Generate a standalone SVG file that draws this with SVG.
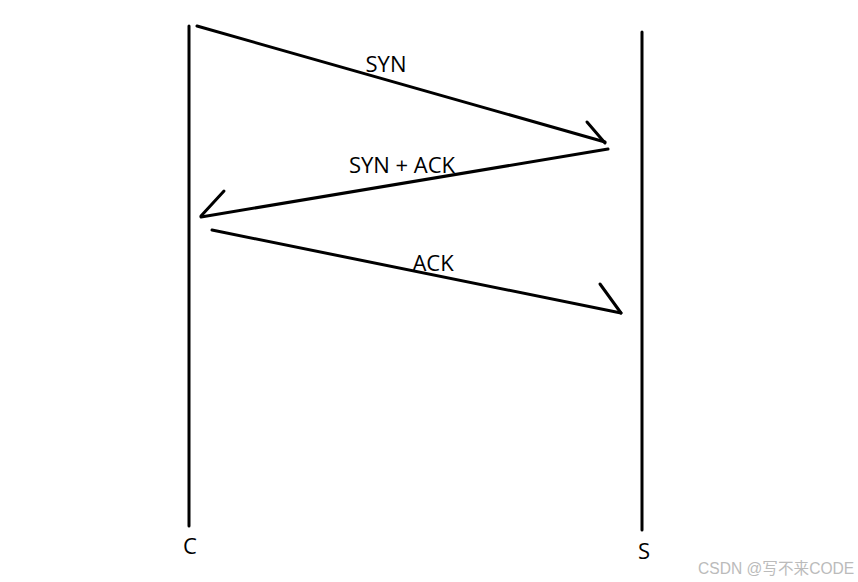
<svg xmlns="http://www.w3.org/2000/svg" width="858" height="582" viewBox="0 0 858 582">
<style>
.ln{stroke:#000;stroke-width:3;fill:none;stroke-linecap:round;stroke-linejoin:round}
.lb{font-family:"Open Sans","Noto Sans","Liberation Sans",sans-serif;font-size:22px;fill:#000}
.wm{font-family:"Liberation Sans","Noto Sans CJK SC",sans-serif;font-size:15.6px;fill:#bbb}
</style>
<rect width="858" height="582" fill="#fff"/>
<g id="client">
<line class="ln" x1="189" y1="26" x2="189" y2="526"/>
<text class="lb" x="190" y="554" text-anchor="middle">C</text>
</g>
<g id="server">
<line class="ln" x1="642" y1="32" x2="642" y2="530"/>
<text class="lb" x="644" y="559" text-anchor="middle">S</text>
</g>
<g id="connectors">
<polyline class="ln" points="197,26 605,142"/>
<polyline class="ln" points="587,122 605,143"/>
<text class="lb" x="386" y="72" text-anchor="middle">SYN</text>
<polyline class="ln" points="608,149 201,217"/>
<polyline class="ln" points="224,191 201,216"/>
<text class="lb" x="402" y="173" text-anchor="middle">SYN + ACK</text>
<polyline class="ln" points="212,230 621,313"/>
<polyline class="ln" points="600,284 621,313"/>
<text class="lb" x="433" y="271" text-anchor="middle">ACK</text>
</g>
<text class="wm" x="698" y="574">CSDN @写不来CODE</text>
</svg>
